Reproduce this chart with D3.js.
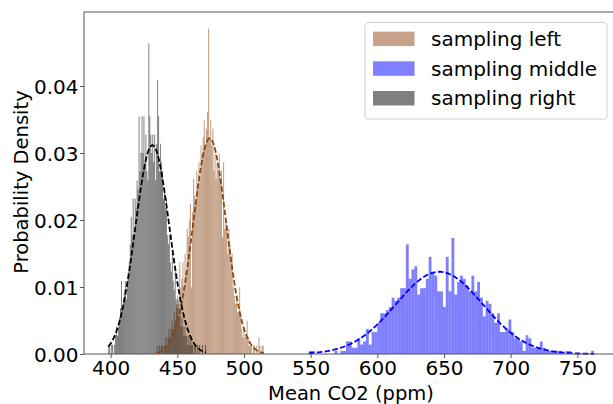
<!DOCTYPE html>
<html>
<head>
<meta charset="utf-8">
<script src="https://cdn.jsdelivr.net/npm/d3@7/dist/d3.min.js"></script>
<style>
  html, body { margin: 0; padding: 0; background: #fff; }
  svg { display: block; font-family: "DejaVu Sans", sans-serif; }
</style>
</head>
<body>
<svg id="chart" width="613" height="404"></svg>
<script>
// ---- data ----
const seriesNames = ["sampling left", "sampling middle", "sampling right"];
const SAMPLES = 1000;
// histogram ranges [min, max] of each sample (ppm), 100 bins each
const leftRange = [434.5, 514.8];
const middleRange = [548.7, 762.5];
const rightRange = [398.2, 471.5];
// bin counts
const leftCounts = [1,0,1,0,1,1,0,1,2,1, 2,3,2,3,4,3,5,4,6,7, 6,11,8,9,11,8,12,10,15,14,
  16,18,8,17,21,19,18,22,20,23, 21,25,24,26,28,25,27,29,39,26, 28,25,27,22,24,21,23,22,24,21,
  22,14,23,15,16,15,12,15,13,11, 12,8,7,6,7,5,5,8,5,3, 2,3,2,2,4,2,1,1,1,0, 1,1,0,1,0,2,1,0,1,1];
const middleCounts = [1,1,0,0,0,0,0,0,0,1, 0,1,1,4,4,2,2,5,3,4, 8,3,7,7,10,13,13,14,15,18,
  17,18,21,21,35,24,27,28,19,21, 21,24,31,26,25,20,20,15,31,20, 37,19,23,25,24,22,20,25,20,23,
  18,12,17,16,13,10,13,7,7,8, 11,7,5,5,4,1,6,5,2,2, 2,4,2,1,1,1,1,1,1,0, 1,1,0,0,0,0,0,0,0,1];
const rightCounts = [1,1,0,1,1,0,1,2,3,2, 3,4,5,8,5,6,7,8,6,8, 9,10,12,15,13,17,13,17,16,19,
  18,26,20,22,26,22,26,21,24,20, 19,34,26,24,22,24,21,24,19,23, 30,26,20,23,21,20,17,18,16,17,
  13,12,13,10,9,11,8,7,9,6, 5,6,4,5,3,4,3,2,3,2, 2,1,2,1,2,1,1,0,1,1, 0,1,0,1,0,0,1,0,0,1];
// fitted normal parameters [mean, sd]
const leftFit = [474.3, 12.4];
const middleFit = [646.5, 32.5];
const rightFit = [431.3, 12.8];
const xTicks = [400, 450, 500, 550, 600, 650, 700, 750];
const yTicks = [0.00, 0.01, 0.02, 0.03, 0.04];

// ---- styles ----
const barColors = ["#8B4513", "#0000FF", "#000000"];
const lineColors = ["#8B4513", "#0000FF", "#000000"];

const svg = d3.select("#chart");
const x = d3.scaleLinear().domain([380.0, 780.2]).range([84, 617.6]);
const y = d3.scaleLinear().domain([0, 0.051045]).range([354, 12]);

function bins(range, counts) {
  const w = (range[1] - range[0]) / counts.length;
  return counts.map((c, i) => ({ x0: range[0] + i * w, x1: range[0] + (i + 1) * w, d: c / (SAMPLES * w) }));
}
const series = [
  { bins: bins(leftRange, leftCounts), range: leftRange, fit: leftFit },
  { bins: bins(middleRange, middleCounts), range: middleRange, fit: middleFit },
  { bins: bins(rightRange, rightCounts), range: rightRange, fit: rightFit }
];

// histograms
series.forEach((s, k) => {
  svg.append("g").selectAll("rect").data(s.bins.filter(b => b.d > 0)).join("rect")
    .attr("x", b => x(b.x0))
    .attr("width", b => x(b.x1) - x(b.x0))
    .attr("y", b => y(b.d))
    .attr("height", b => y(0) - y(b.d))
    .attr("fill", barColors[k])
    .attr("fill-opacity", 0.5);
});

// fitted curves
const pdf = (v, m, sd) => Math.exp(-0.5 * ((v - m) / sd) ** 2) / (sd * Math.sqrt(2 * Math.PI));
series.forEach((s, k) => {
  const xs = d3.range(0, 201).map(i => s.range[0] + (s.range[1] - s.range[0]) * i / 200);
  svg.append("path")
    .datum(xs)
    .attr("d", d3.line().x(v => x(v)).y(v => y(pdf(v, s.fit[0], s.fit[1]))))
    .attr("fill", "none")
    .attr("stroke", lineColors[k])
    .attr("stroke-width", 1.8)
    .attr("stroke-dasharray", "5.5,2.4");
});

// axes
const axisColor = "#555";
const gx = svg.append("g").attr("transform", "translate(0,354)")
  .call(d3.axisBottom(x).tickValues(xTicks).tickFormat(d3.format("d")).tickSize(4).tickPadding(3));
const gy = svg.append("g").attr("transform", "translate(84,0)")
  .call(d3.axisLeft(y).tickValues(yTicks).tickFormat(d3.format(".2f")).tickSize(4).tickPadding(1.5));
[gx, gy].forEach(g => {
  g.select(".domain").remove();
  g.selectAll(".tick line").attr("stroke", axisColor).attr("stroke-width", 1);
  g.selectAll(".tick text").attr("fill", "#000").style("font-size", "20px").style("font-family", "DejaVu Sans");
});
gy.selectAll(".tick text").attr("dy", "0.36em");
// spines
svg.append("line").attr("x1", 84).attr("x2", 84).attr("y1", 12).attr("y2", 354).attr("stroke", axisColor);
svg.append("line").attr("x1", 84).attr("x2", 613).attr("y1", 354).attr("y2", 354).attr("stroke", axisColor);
svg.append("line").attr("x1", 84).attr("x2", 613).attr("y1", 12).attr("y2", 12).attr("stroke", axisColor);

// axis labels
svg.append("text").attr("x", 351).attr("y", 399.5).attr("text-anchor", "middle")
  .style("font-size", "19.5px").text("Mean CO2 (ppm)");
svg.append("text").attr("transform", "translate(28,182) rotate(-90)").attr("text-anchor", "middle")
  .style("font-size", "19.5px").text("Probability Density");

// legend
const lg = svg.append("g");
lg.append("rect").attr("x", 365).attr("y", 22.5).attr("width", 242).attr("height", 96.5)
  .attr("rx", 3).attr("fill", "#fff").attr("fill-opacity", 0.8).attr("stroke", "#d0d0d0").attr("stroke-width", 1);
seriesNames.forEach((name, k) => {
  const cy = 38.8 + k * 29.7;
  lg.append("rect").attr("x", 373).attr("y", cy - 7.2).attr("width", 41.5).attr("height", 14.5)
    .attr("fill", barColors[k]).attr("fill-opacity", 0.5);
  lg.append("text").attr("x", 431).attr("y", cy).attr("dy", "0.36em")
    .style("font-size", "20px").text(name);
});
</script>
</body>
</html>
